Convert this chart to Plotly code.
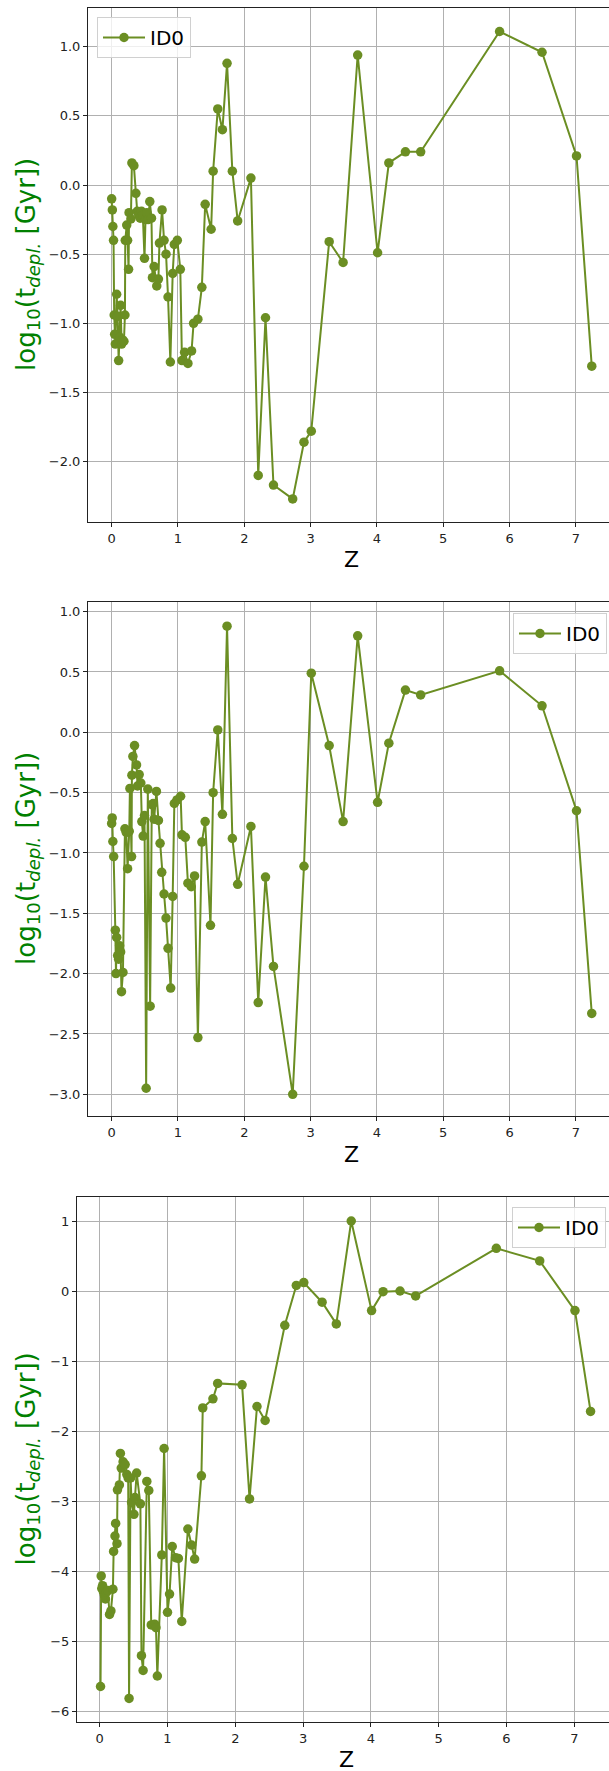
import plotly.graph_objects as go

# ---------------- data ----------------
z_top = [0.000, 0.010, 0.018, 0.028, 0.038, 0.045, 0.055, 0.075, 0.090, 0.105,
         0.120, 0.135, 0.150, 0.165, 0.185, 0.200, 0.205, 0.227, 0.240, 0.255,
         0.262, 0.290, 0.305, 0.335, 0.365, 0.385, 0.410, 0.430, 0.450, 0.470,
         0.495, 0.510, 0.530, 0.550, 0.575, 0.600, 0.615, 0.640, 0.680, 0.705,
         0.720, 0.760, 0.790, 0.820, 0.850, 0.885, 0.920, 0.945, 0.990, 1.035,
         1.060, 1.100, 1.150, 1.205, 1.235, 1.300, 1.360, 1.410, 1.500, 1.530,
         1.600, 1.670, 1.740, 1.820, 1.900, 2.100, 2.210, 2.320, 2.440, 2.730,
         2.900, 3.010, 3.280, 3.490, 3.710, 4.010, 4.180, 4.430, 4.660, 5.850,
         6.490, 7.010, 7.240]
t_top = [-0.10, -0.18, -0.30, -0.40, -0.94, -1.08, -1.15, -0.79, -0.95, -1.27,
         -1.10, -0.87, -1.15, -1.12, -1.13, -0.94, -0.40, -0.29, -0.40, -0.61,
         -0.20, -0.245, 0.16, 0.14, -0.06, -0.19, -0.22, -0.24, -0.19, -0.22,
         -0.53, -0.25, -0.20, -0.25, -0.12, -0.24, -0.67, -0.59, -0.73, -0.68,
         -0.42, -0.18, -0.40, -0.50, -0.81, -1.28, -0.64, -0.43, -0.40, -0.61,
         -1.27, -1.21, -1.29, -1.20, -1.00, -0.97, -0.74, -0.14, -0.32, 0.10,
         0.55, 0.40, 0.88, 0.10, -0.26, 0.05, -2.10, -0.96, -2.17, -2.27,
         -1.86, -1.78, -0.41, -0.56, 0.94, -0.49, 0.16, 0.24, 0.24, 1.11,
         0.96, 0.21, -1.31]

z_mid = [0.000, 0.008, 0.018, 0.030, 0.055, 0.065, 0.075, 0.090, 0.105, 0.120,
         0.135, 0.148, 0.170, 0.200, 0.220, 0.240, 0.265, 0.275, 0.300, 0.305,
         0.320, 0.345, 0.375, 0.390, 0.415, 0.440, 0.455, 0.475, 0.495, 0.520,
         0.545, 0.580, 0.605, 0.625, 0.640, 0.675, 0.705, 0.730, 0.755, 0.790,
         0.820, 0.850, 0.890, 0.920, 0.945, 0.985, 1.040, 1.060, 1.110, 1.150,
         1.200, 1.250, 1.300, 1.360, 1.410, 1.490, 1.530, 1.600, 1.670, 1.740,
         1.820, 1.900, 2.100, 2.210, 2.320, 2.440, 2.730, 2.900, 3.010, 3.280,
         3.490, 3.710, 4.010, 4.180, 4.430, 4.660, 5.850, 6.490, 7.010, 7.240]
t_mid = [-0.755, -0.71, -0.905, -1.03, -1.64, -2.00, -1.70, -1.85, -1.88, -1.77,
         -1.82, -2.15, -1.99, -0.80, -0.83, -1.13, -0.82, -0.465, -1.03, -0.355,
         -0.20, -0.11, -0.27, -0.445, -0.35, -0.42, -0.74, -0.86, -0.69, -2.95,
         -0.47, -2.27, -0.60, -0.59, -0.72, -0.49, -0.73, -0.92, -1.16, -1.34,
         -1.54, -1.79, -2.12, -1.36, -0.59, -0.56, -0.53, -0.85, -0.87, -1.25,
         -1.28, -1.19, -2.53, -0.91, -0.74, -1.60, -0.50, 0.02, -0.68, 0.88,
         -0.88, -1.26, -0.78, -2.24, -1.20, -1.94, -3.00, -1.11, 0.49, -0.11,
         -0.74, 0.80, -0.58, -0.09, 0.35, 0.31, 0.51, 0.22, -0.65, -2.33]

z_bot = [0.012, 0.022, 0.030, 0.042, 0.055, 0.070, 0.085, 0.100, 0.120, 0.145,
         0.165, 0.195, 0.205, 0.225, 0.235, 0.255, 0.262, 0.290, 0.305, 0.318,
         0.345, 0.375, 0.400, 0.420, 0.433, 0.455, 0.470, 0.505, 0.520, 0.545,
         0.600, 0.616, 0.640, 0.695, 0.724, 0.760, 0.810, 0.830, 0.850, 0.916,
         0.950, 1.000, 1.030, 1.070, 1.120, 1.160, 1.210, 1.300, 1.355, 1.400,
         1.500, 1.520, 1.670, 1.740, 2.100, 2.210, 2.320, 2.440, 2.730, 2.900,
         3.010, 3.280, 3.490, 3.710, 4.010, 4.180, 4.430, 4.660, 5.850, 6.490,
         7.010, 7.240]
t_bot = [-5.65, -4.07, -4.25, -4.21, -4.30, -4.35, -4.40, -4.30, -4.28, -4.62,
         -4.57, -4.26, -3.72, -3.50, -3.32, -3.61, -2.84, -2.77, -2.32, -2.53,
         -2.44, -2.48, -2.62, -2.67, -5.82, -2.67, -3.02, -3.19, -2.95, -2.60,
         -3.04, -5.21, -5.42, -2.72, -2.85, -4.77, -4.76, -4.81, -5.50, -3.77,
         -2.25, -4.59, -4.33, -3.65, -3.81, -3.82, -4.72, -3.40, -3.63, -3.83,
         -2.64, -1.67, -1.54, -1.32, -1.34, -2.97, -1.65, -1.85, -0.49, 0.08,
         0.12, -0.16, -0.47, 1.00, -0.28, -0.01, 0.00, -0.07, 0.61, 0.43,
         -0.28, -1.72]

series_name = "ID0"
x_ticks = [0, 1, 2, 3, 4, 5, 6, 7]
x_label = "Z"
y_label = "log<sub>10</sub>(t<sub><i>depl.</i></sub> [Gyr])"

# ---------------- layout helpers ----------------
W, H = 609, 1771
COLOR = "#6B8E23"
FONT = "DejaVu Sans"


def px_x(p):
    return p / W


def px_y(p):
    return 1 - p / H


panels = [
    dict(z=z_top, t=t_top, left=88, top=8, bottom=522, xr=[-0.357, 7.50],
         yr=[-2.437, 1.28], dtick=0.5, fmt=".1f", legend="legend",
         xlab_x=351, xlab_y=559),
    dict(z=z_mid, t=t_mid, left=88, top=602, bottom=1116, xr=[-0.357, 7.50],
         yr=[-3.18, 1.08], dtick=0.5, fmt=".1f", legend="legend2",
         xlab_x=351, xlab_y=1154),
    dict(z=z_bot, t=t_bot, left=77, top=1197, bottom=1722, xr=[-0.335, 7.512],
         yr=[-6.157, 1.343], dtick=1, fmt="d", legend="legend3",
         xlab_x=346, xlab_y=1759),
]

fig = go.Figure()
annotations = []
layout_axes = {}

for i, p in enumerate(panels):
    n = "" if i == 0 else str(i + 1)
    fig.add_trace(go.Scatter(
        x=p["z"], y=p["t"], mode="lines+markers", name=series_name,
        line=dict(color=COLOR, width=2),
        marker=dict(color=COLOR, size=9.5),
        xaxis="x" + n, yaxis="y" + n, legend=p["legend"],
    ))
    common = dict(
        showgrid=True, gridcolor="#b0b0b0", gridwidth=0.8,
        zeroline=False, showline=True, linecolor="#222222", linewidth=1,
        ticks="outside", ticklen=4, tickwidth=1, tickcolor="#222222",
        tickfont=dict(family=FONT, size=13, color="#222222"),
    )
    layout_axes["xaxis" + n] = dict(
        common, domain=[px_x(p["left"]), 1.0], range=p["xr"],
        tickmode="array", tickvals=x_ticks, anchor="y" + n, mirror=True,
    )
    layout_axes["yaxis" + n] = dict(
        common, domain=[px_y(p["bottom"]), px_y(p["top"])], range=p["yr"],
        dtick=p["dtick"], tick0=0, tickformat=p["fmt"], anchor="x" + n,
    )
    annotations.append(dict(
        text=y_label, xref="paper", yref="paper",
        x=px_x(27), y=px_y((p["top"] + p["bottom"]) / 2),
        xanchor="center", yanchor="middle", textangle=-90, showarrow=False,
        font=dict(family=FONT, size=26, color="green"),
    ))
    annotations.append(dict(
        text=x_label, xref="paper", yref="paper",
        x=px_x(p["xlab_x"]), y=px_y(p["xlab_y"]),
        xanchor="center", yanchor="middle", showarrow=False,
        font=dict(family=FONT, size=22, color="black"),
    ))

legend_style = dict(
    bgcolor="rgba(255,255,255,0.8)", bordercolor="#d0d0d0", borderwidth=1,
    font=dict(family=FONT, size=20, color="black"), itemwidth=42,
)

fig.update_layout(
    width=W, height=H,
    margin=dict(l=0, r=0, t=0, b=0, autoexpand=False),
    paper_bgcolor="white", plot_bgcolor="white",
    showlegend=True,
    legend=dict(legend_style, x=px_x(97), y=px_y(17), xanchor="left", yanchor="top"),
    legend2=dict(legend_style, x=px_x(607), y=px_y(613), xanchor="right", yanchor="top"),
    legend3=dict(legend_style, x=px_x(606), y=px_y(1207), xanchor="right", yanchor="top"),
    annotations=annotations,
    **layout_axes,
)

fig.write_html("out.html")
